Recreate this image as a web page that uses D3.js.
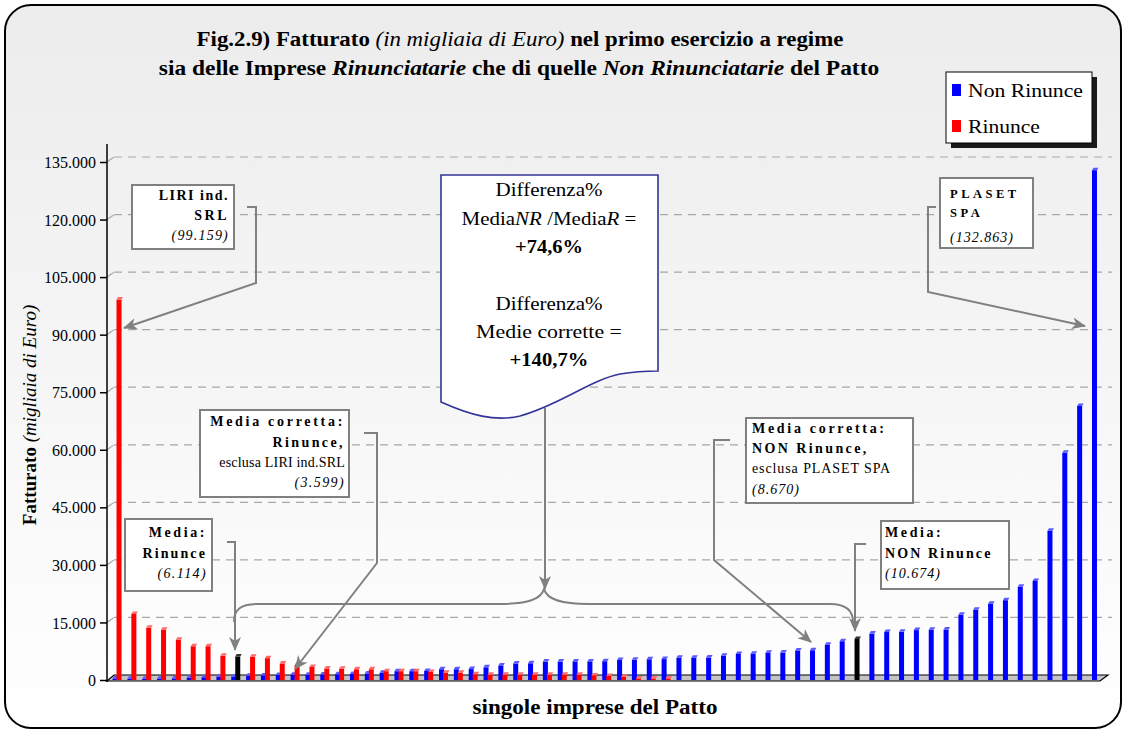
<!DOCTYPE html>
<html>
<head>
<meta charset="utf-8">
<script src="https://cdn.jsdelivr.net/npm/d3@7"></script>
<style>
  body { margin: 0; background: #fff; }
  svg { display: block; }
  text { font-family: "Liberation Serif", "Times New Roman", serif; fill: #000; }
</style>
</head>
<body>
<svg id="grafico" width="1127" height="732"></svg>
<script>
// ---- Dati (fatturato in migliaia di Euro) ----
const imprese = d3.range(67);                       // singole imprese del Patto
const serie = ["Non Rinunce", "Rinunce"];
const colori = ["#0000ff", "#ff0000"];

// imprese non rinunciatarie, in ordine crescente (null = barra della media)
const nonRinunce = [400, 300, 300, 350, 400, 600, 700, 900, 900, 1100,
  1200, 1300, 1400, 1400, 1450, 1500, 1550, 1700, 1900, 2300,
  2300, 2350, 2800, 2800, 2850, 3300, 3800, 4300, 4350, 4800,
  4800, 4850, 4850, 4900, 5200, 5250, 5400, 5450, 5800, 5800,
  5850, 6300, 6800, 6850, 7100, 7150, 7700, 7750, 9200, 10100,
  null, 12100, 12500, 12550, 13000, 13100, 13150, 17000, 18300, 19900,
  20800, 24300, 25800, 38900, 59200, 71400, 132863];

// imprese rinunciatarie, in ordine decrescente (null = barra della media)
const rinunce = [99159, 17200, 13600, 13100, 10500, 8800, 8800, 6300, null, 6050,
  5700, 4300, 3900, 3400, 3000, 2900, 2800, 2800, 2300, 2300,
  2300, 2100, 1900, 1900, 1500, 1400, 1400, 1400, 1400, 1400,
  1400, 1400, 1200, 1050, 800, 400, 400, 400];

// medie evidenziate in nero
const medieSerie = ["Rinunce", "Non Rinunce"];
const medieIndici = [8, 50];
const medieValori = [6114, 10674];

const yTicks = [0, 15000, 30000, 45000, 60000, 75000, 90000, 105000, 120000, 135000];

// ---- Impianto ----
const svg = d3.select("#grafico");
const defs = svg.append("defs");

const grad = defs.append("linearGradient").attr("id", "sfondo")
  .attr("x1", 0).attr("y1", 0).attr("x2", 0).attr("y2", 1);
grad.append("stop").attr("offset", "0%").attr("stop-color", "#ececec");
grad.append("stop").attr("offset", "100%").attr("stop-color", "#ffffff");

defs.append("marker").attr("id", "freccia")
  .attr("viewBox", "0 0 14 12").attr("refX", 13).attr("refY", 6)
  .attr("markerWidth", 14).attr("markerHeight", 12)
  .attr("markerUnits", "userSpaceOnUse").attr("orient", "auto")
  .append("path").attr("d", "M0,0 L14,6 L0,12 L4,6 Z").attr("fill", "#808080");

// cornice arrotondata
svg.append("rect").attr("x", 5).attr("y", 5).attr("width", 1116).attr("height", 723)
  .attr("rx", 26).attr("fill", "url(#sfondo)").attr("stroke", "#000").attr("stroke-width", 2);

const y = d3.scaleLinear().domain([0, 135000]).range([680, 162]);
const x = d3.scaleBand().domain(imprese).range([109.6, 1103.9]);
const cx = i => x(i) + x.bandwidth() / 2;

const prof = { dx: 7, dy: -5 };   // profondità della parete 3D

// griglia tratteggiata sulla parete di fondo
const griglia = svg.append("g").attr("stroke", "#a8a8a8").attr("stroke-width", 1.2)
  .attr("stroke-dasharray", "8,6").attr("fill", "none");
yTicks.filter(v => v > 0).forEach(v => {
  griglia.append("line").attr("x1", 107 + prof.dx).attr("x2", 1112)
    .attr("y1", y(v) + prof.dy).attr("y2", y(v) + prof.dy);
  griglia.append("line").attr("x1", 107).attr("x2", 107 + prof.dx)
    .attr("y1", y(v)).attr("y2", y(v) + prof.dy).attr("stroke-dasharray", null);
});

// pavimento
svg.append("path")
  .attr("d", `M107,681 L1100,681 L${1100 + prof.dx + 1},${681 + prof.dy - 1} L${107 + prof.dx},${681 + prof.dy - 1} Z`)
  .attr("fill", "#c4c4c4").attr("stroke", "#000").attr("stroke-width", 1.2);

// asse Y
const fmt = d3.formatLocale({ decimal: ",", thousands: ".", grouping: [3], currency: ["", "€"] }).format(",");
const assey = svg.append("g").attr("transform", "translate(107,0)")
  .call(d3.axisLeft(y).tickValues(yTicks).tickFormat(fmt).tickSize(7).tickSizeOuter(0).tickPadding(4));
assey.select(".domain").remove();
assey.selectAll("line").attr("stroke", "#000").attr("stroke-width", 1.5);
assey.selectAll("text").style("font-family", '"Liberation Serif", serif').style("font-size", "16px")
  .attr("dy", "0.35em");
svg.append("line").attr("x1", 107).attr("x2", 107).attr("y1", 144).attr("y2", 682)
  .attr("stroke", "#000").attr("stroke-width", 1.5);

// ---- Barre ----
const barW = 5;
function barra(g, xp, v, col, cap) {
  g.append("rect").attr("x", xp).attr("y", y(v)).attr("width", barW)
    .attr("height", 680 - y(v)).attr("fill", col);
  g.append("path")
    .attr("d", `M${xp},${y(v)} L${xp + 1.5},${y(v) - 2.5} L${xp + barW + 1.5},${y(v) - 2.5} L${xp + barW},${y(v)} Z`)
    .attr("fill", cap);
}
const gb = svg.append("g");
nonRinunce.forEach((v, i) => { if (v != null) barra(gb, cx(i) - 4.5, v, colori[0], "#5a5aff"); });
rinunce.forEach((v, i) => { if (v != null) barra(gb, cx(i) - 0.5, v, colori[1], "#ff6a6a"); });
medieIndici.forEach((i, k) => {
  const off = medieSerie[k] === "Rinunce" ? -0.5 : -4.5;
  barra(gb, cx(i) + off, medieValori[k], "#000", "#333");
});

// ---- Titoli ----
function riga(parent, xp, yp, parti, opts = {}) {
  const t = parent.append("text").attr("x", xp).attr("y", yp)
    .attr("text-anchor", opts.anchor || "start")
    .style("font-size", (opts.size || 14) + "px");
  if (opts.ls) t.style("letter-spacing", opts.ls + "px");
  parti.forEach(p => {
    t.append("tspan").text(p[0])
      .style("font-weight", p[1] === "b" || p[1] === "bi" ? "bold" : "normal")
      .style("font-style", p[1] === "i" || p[1] === "bi" ? "italic" : "normal")
      .style("letter-spacing", p[2] != null ? p[2] + "px" : null);
  });
  if (opts.w) {
    const w = t.node().getComputedTextLength();
    const s = opts.w / w;
    t.attr("transform", `translate(${xp},${yp}) scale(${s},1) translate(${-xp},${-yp})`);
  }
  return t;
}

riga(svg, 520, 46, [["Fig.2.9) Fatturato ", "b"], ["(in migliaia di Euro)", "i"], ["  nel primo esercizio a regime", "b"]],
  { anchor: "middle", size: 20, w: 647 });
riga(svg, 519, 75, [["sia delle Imprese ", "b"], ["Rinunciatarie", "bi"], ["  che di quelle ", "b"], ["Non Rinunciatarie", "bi"], ["  del Patto", "b"]],
  { anchor: "middle", size: 20, w: 721 });

// titolo asse X
riga(svg, 595, 714, [["singole imprese del Patto", "b"]], { anchor: "middle", size: 20, w: 245 });

// titolo asse Y
const ty = svg.append("text").attr("transform", "translate(36,415) rotate(-90)")
  .attr("text-anchor", "middle").style("font-size", "19px");
ty.append("tspan").text("Fatturato ").style("font-weight", "bold");
ty.append("tspan").text("(migliaia di Euro)").style("font-style", "italic");

// ---- Legenda ----
const leg = svg.append("g");
leg.append("rect").attr("x", 951).attr("y", 77).attr("width", 146).attr("height", 71).attr("fill", "#1a1a1a");
leg.append("rect").attr("x", 946).attr("y", 72).attr("width", 146).attr("height", 71)
  .attr("fill", "#fff").attr("stroke", "#000").attr("stroke-width", 1);
serie.forEach((s, k) => {
  leg.append("rect").attr("x", 952).attr("y", 84 + k * 36).attr("width", 9).attr("height", 12).attr("fill", colori[k]);
  riga(leg, 968, 97 + k * 36, [[s, "n"]], { size: 19, w: k === 0 ? 115 : 72 });
});

// ---- Frecce e graffa ----
const frecce = svg.append("g").attr("fill", "none").attr("stroke", "#808080").attr("stroke-width", 2);
[
  "M247,207 H256 V283 L124,328",
  "M936,207 H928 V292 L1085,326",
  "M227,542 H235 V650",
  "M364,433 H377 V563 L295,669",
  "M730,440 H714 V560 L811,642",
  "M866,544 H855 V631",
  "M545,408 V589"
].forEach(d => frecce.append("path").attr("d", d).attr("marker-end", "url(#freccia)"));

frecce.append("path")
  .attr("d", "M234,622 C234,610 240,604 258,604 H500 C526,604 541,600 544,589 C547,600 562,604 588,604 H830 C846,604 853,610 853,622");

// ---- Riquadri di commento ----
function riquadro(r, anchor, tx, righe) {
  const g = svg.append("g");
  g.append("rect").attr("x", r[0]).attr("y", r[1]).attr("width", r[2]).attr("height", r[3])
    .attr("fill", "#fff").attr("stroke", "#808080").attr("stroke-width", 2);
  righe.forEach(l => riga(g, tx, l.y, [[l.t, l.s]], { anchor, size: l.size || 14, ls: l.ls }));
}

riquadro([132, 185, 102, 64], "end", 229, [
  { t: "LIRI ind.", s: "b", y: 200, ls: 1.5 },
  { t: "SRL", s: "b", y: 220, ls: 2.5 },
  { t: "(99.159)", s: "i", y: 240, ls: 1.2 }
]);
riquadro([940, 178, 93, 70], "start", 950, [
  { t: "PLASET", s: "b", y: 198, ls: 3.5, size: 12.5 },
  { t: "SPA", s: "b", y: 217, ls: 3.5, size: 12.5 },
  { t: "(132.863)", s: "i", y: 242, ls: 1 }
]);
riquadro([200, 410, 149, 87], "end", 345, [
  { t: "Media corretta:", s: "b", y: 426, ls: 2.7 },
  { t: "Rinunce,", s: "b", y: 447, ls: 2.4 },
  { t: "esclusa LIRI ind.SRL", s: "n", y: 467, ls: 0.2 },
  { t: "(3.599)", s: "i", y: 487, ls: 1.4 }
]);
riquadro([125, 519, 87, 72], "end", 207, [
  { t: "Media:", s: "b", y: 537, ls: 2.6 },
  { t: "Rinunce", s: "b", y: 558, ls: 2.1 },
  { t: "(6.114)", s: "i", y: 578, ls: 1.4 }
]);
riquadro([746, 418, 167, 85], "start", 752, [
  { t: "Media corretta:", s: "b", y: 433, ls: 2.7 },
  { t: "NON Rinunce,", s: "b", y: 453, ls: 2.4 },
  { t: "esclusa PLASET SPA", s: "n", y: 473, ls: 0.9 },
  { t: "(8.670)", s: "i", y: 494, ls: 1 }
]);
riquadro([881, 521, 128, 68], "start", 885, [
  { t: "Media:", s: "b", y: 537, ls: 2.6 },
  { t: "NON Rinunce", s: "b", y: 558, ls: 2.1 },
  { t: "(10.674)", s: "i", y: 578, ls: 1 }
]);

// ---- Nota a forma di documento ----
const nota = svg.append("g");
nota.append("path")
  .attr("d", "M441,175 H658 V371 C645,371 635,371.5 620,374 C590,380 560,405 520,416 C495,422 470,415 441,402 Z")
  .attr("fill", "#fff").attr("stroke", "#333399").attr("stroke-width", 1.6);
riga(nota, 549, 196, [["Differenza%", "n"]], { anchor: "middle", size: 18, w: 107 });
riga(nota, 549, 225, [["Media", "n"], ["NR", "i"], [" /Media", "n"], ["R", "i"], ["  =", "n"]], { anchor: "middle", size: 18, w: 175 });
riga(nota, 549, 253, [["+74,6%", "b"]], { anchor: "middle", size: 18, w: 68 });
riga(nota, 549, 310, [["Differenza%", "n"]], { anchor: "middle", size: 18, w: 107 });
riga(nota, 549, 338, [["Medie corrette =", "n"]], { anchor: "middle", size: 18, w: 146 });
riga(nota, 549, 366, [["+140,7%", "b"]], { anchor: "middle", size: 18, w: 79 });
</script>
</body>
</html>
